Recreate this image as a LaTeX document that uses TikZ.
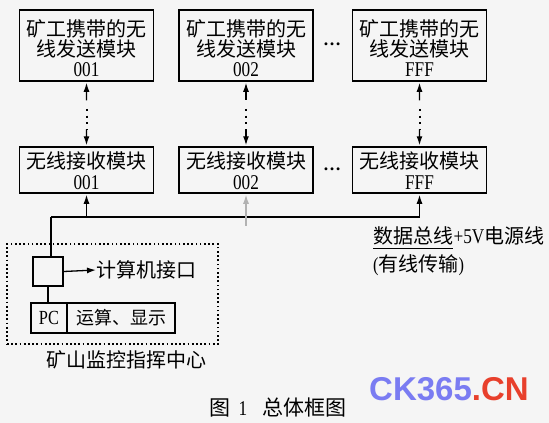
\documentclass[tikz,border=0pt]{standalone}
\usepackage{fontspec}
\setmainfont{Liberation Serif}
\newfontfamily\cjk{Noto Sans CJK SC}
\newfontfamily\narrow[FakeStretch=0.82]{Liberation Serif}
\newfontfamily\wmfont{Liberation Sans}
\usetikzlibrary{arrows.meta,calc}
\definecolor{wmblue}{HTML}{7A7CF2}
\definecolor{wmred}{HTML}{E8402C}
\begin{document}
\begin{tikzpicture}[x=1pt,y=-1pt,
  box/.style={draw,line width=1.5pt,minimum width=134pt,inner sep=0pt},
  tbox/.style={box,minimum height=71pt},
  rbox/.style={box,minimum height=46pt},
  txt/.style={inner sep=0pt,anchor=base,font=\cjk\fontsize{20}{20}\selectfont},
  dig/.style={inner sep=0pt,anchor=base,font=\narrow\fontsize{21}{20}\selectfont},
  conn/.style={line width=1.3pt},
  tip/.style={-{Latex[length=9pt,width=6pt]}},
  backtip/.style={{Latex[length=9pt,width=6pt]}-},
  dotline/.style={line width=2pt,dash pattern=on 2pt off 4.8pt},
  dotbox/.style={draw,line width=1.7pt,dash pattern=on 1.7pt off 2.5pt,inner sep=0pt},
  lbl/.style={inner sep=0pt,font=\fontsize{20}{20}\selectfont}
]
\useasboundingbox (0,0) rectangle (549,423);
\fill[black!4] (0,0) rectangle (549,423);

% transmitter and receiver boxes
\foreach \i/\x/\c in {1/86.5/001,2/246/002,3/419.5/FFF}{
  \node[tbox] (t\i) at (\x,45.5) {};
  \node[txt] (t\i a) at (\x,36) {矿工携带的无};
  \node[txt] (t\i b) at (\x,56.5) {线发送模块};
  \node[dig] (t\i c) at (\x,76) {\c};
  \node[rbox] (r\i) at (\x,170) {};
  \node[txt] (r\i a) at (\x,168) {无线接收模块};
  \node[dig] (r\i c) at (\x,189) {\c};
}
\node[anchor=base,inner sep=0pt,font=\bfseries\fontsize{18}{18}\selectfont] (e1) at (332,45) {…};
\node[anchor=base,inner sep=0pt,font=\bfseries\fontsize{18}{18}\selectfont] (e2) at (332,170) {…};

% wireless links
\foreach \i in {1,2,3}{
  \draw[conn,backtip,shorten <=1pt] (t\i.south) -- ($(t\i.south)!0.29!(r\i.north)$);
  \draw[dotline] ($(t\i.south)!0.42!(r\i.north)$) -- ($(t\i.south)!0.74!(r\i.north)$);
  \draw[conn,tip,shorten >=1pt] ($(t\i.south)!0.74!(r\i.north)$) -- (r\i.north);
}

% monitoring centre
\node[dotbox,minimum width=211pt,minimum height=100pt] (ctr) at (112.5,294) {};
\node[draw,line width=1.3pt,minimum width=30pt,minimum height=29pt,inner sep=0pt] (ifc) at (48,271.5) {};
\node[lbl,anchor=west] (jk) at (96,270) {\cjk 计算机接口};
\node[draw,line width=1.3pt,minimum width=36pt,minimum height=30pt,inner sep=0pt,font=\narrow\fontsize{20}{19}\selectfont] (pc) at (49,318) {PC};
\node[draw,line width=1.3pt,minimum width=108pt,minimum height=30pt,inner sep=0pt,font=\fontsize{18}{18}\selectfont] (ys) at (121,318) {\cjk 运算、显示};
\node[lbl] (ctrl) at (126.5,360) {\cjk 矿山监控指挥中心};

% bus
\coordinate (busL) at (51,217);
\draw[conn] (busL) -- (busL |- ifc.north);
\draw[conn,tip,shorten >=1pt] (busL) -| (r3.south);
\draw[conn,tip,shorten >=1pt] (busL -| r1.south) -- (r1.south);
\draw[line width=1.2pt,black!30,tip,shorten >=1pt] ($(r2.south)+(0,32)$) -- (r2.south);
\draw[conn,tip] (ifc.east) -- (jk.west);
\draw[conn] (ifc.south) -- (ifc.south |- pc.north);

% bus label
\node[lbl,anchor=base west,inner ysep=3.5pt] (dl) at (373,243) {\cjk 数据总线};
\node[lbl,anchor=base west] (pv) at (dl.base east) {{\narrow\fontsize{21}{20}\selectfont +5V}{\cjk 电源线}};
\draw[line width=1.3pt] (dl.south west) -- (dl.south east);
\node[lbl,anchor=base west] (yx) at (373,271) {{\narrow (}{\cjk 有线传输}{\narrow )}};

% caption
\node[inner sep=0pt,font=\fontsize{21}{21}\selectfont] (cap) at (278,407) {{\cjk 图}\hspace{8pt}{\narrow 1}\hspace{15pt}{\cjk 总体框图}};

% watermark
\node[inner sep=0pt,font=\wmfont\bfseries\fontsize{33}{33}\selectfont] (wm) at (449,389) {\textcolor{wmblue}{CK365}\textcolor{wmred}{.CN}};
\end{tikzpicture}
\end{document}
